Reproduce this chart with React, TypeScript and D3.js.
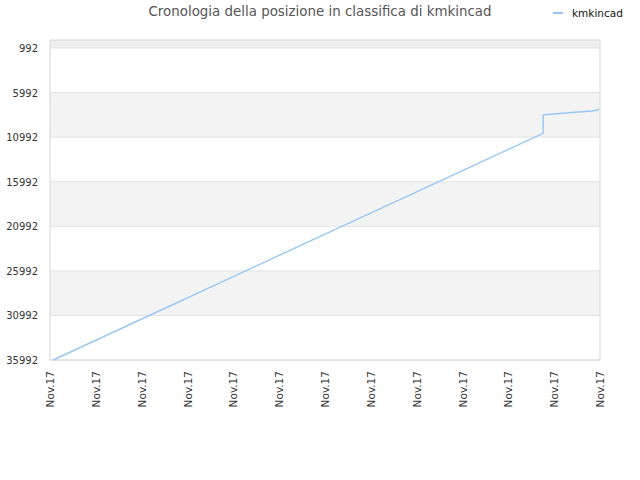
import React from 'react';
import * as d3 from 'd3';

// chart data
const tickLabels = ['Nov.17', 'Nov.17', 'Nov.17', 'Nov.17', 'Nov.17', 'Nov.17', 'Nov.17',
  'Nov.17', 'Nov.17', 'Nov.17', 'Nov.17', 'Nov.17', 'Nov.17'];
const rankTicks = [992, 5992, 10992, 15992, 20992, 25992, 30992, 35992];
const steps = [0.07, 2, 4, 6, 8, 10, 10.76, 10.76, 10.91, 11.19, 11.52, 11.83, 11.96, 11.96];
const ranks = [35992, 31392, 26637, 21869, 17124, 12356, 10561, 8508, 8430, 8317, 8172, 8059, 7947, 7779];
const seriesName = 'kmkincad';
const title = 'Cronologia della posizione in classifica di kmkincad';

const W = 640;
const H = 480;
const margin = { top: 40, right: 40, bottom: 120, left: 50 };
const FONT = '"DejaVu Sans", Verdana, sans-serif';

const App: React.FC = () => {
  const innerW = W - margin.left - margin.right;
  const innerH = H - margin.top - margin.bottom;

  const x = d3.scaleLinear().domain([0, tickLabels.length - 1]).range([0, innerW]);
  const y = d3.scaleLinear().domain([95, 35992]).range([0, innerH]);

  const points = steps.map((s, i) => [s, ranks[i]] as [number, number]);
  const line = d3.line<[number, number]>()
    .x(d => x(d[0]))
    .y(d => y(d[1]));

  // alternating bands between rank ticks, counted from the bottom
  const edges = [y.domain()[0], ...rankTicks];
  const bands = d3.pairs(edges).map(([a, b], i) => ({ a, b, grey: (edges.length - 2 - i) % 2 === 1 }));

  return (
    <svg width={W} height={H} style={{ position: 'absolute', left: 0, top: 0 }} fontFamily={FONT}>
      <rect width={W} height={H} fill="#fff" />
      <text x={W / 2} y={16} textAnchor="middle" fontSize={13.4} fill="#555">{title}</text>

      <g transform="translate(553,13)">
        <line x1={0} x2={10} stroke="#99c7f5" strokeWidth={2} />
        <text x={19} y={4} fontSize={10.5} fill="#111">{seriesName}</text>
      </g>

      <g transform={`translate(${margin.left},${margin.top})`}>
        {bands.map((bd, i) => (
          <rect key={i} x={0} width={innerW} y={y(bd.a)} height={y(bd.b) - y(bd.a)}
            fill={bd.grey ? (i === 0 ? '#efefef' : '#f3f3f3') : '#fff'} />
        ))}
        {rankTicks.map(t => (
          <line key={t} x1={0} x2={innerW} y1={y(t)} y2={y(t)} stroke="#e2e2e2" />
        ))}
        <rect x={0} y={0} width={innerW} height={innerH} fill="none" stroke="#d8d8d8" />

        {rankTicks.map(t => (
          <text key={t} x={-12} y={y(t) + 4} textAnchor="end" fontSize={10} fill="#333">{t}</text>
        ))}

        {tickLabels.map((l, i) => (
          <text key={i} transform={`translate(${x(i) + 4},${innerH + 11}) rotate(-90)`}
            textAnchor="end" fontSize={10.5} fill="#333">{l}</text>
        ))}

        <path d={line(points) ?? ''} fill="none" stroke="#99c7f5" strokeWidth={1.4} />
      </g>
    </svg>
  );
};

export default App;
